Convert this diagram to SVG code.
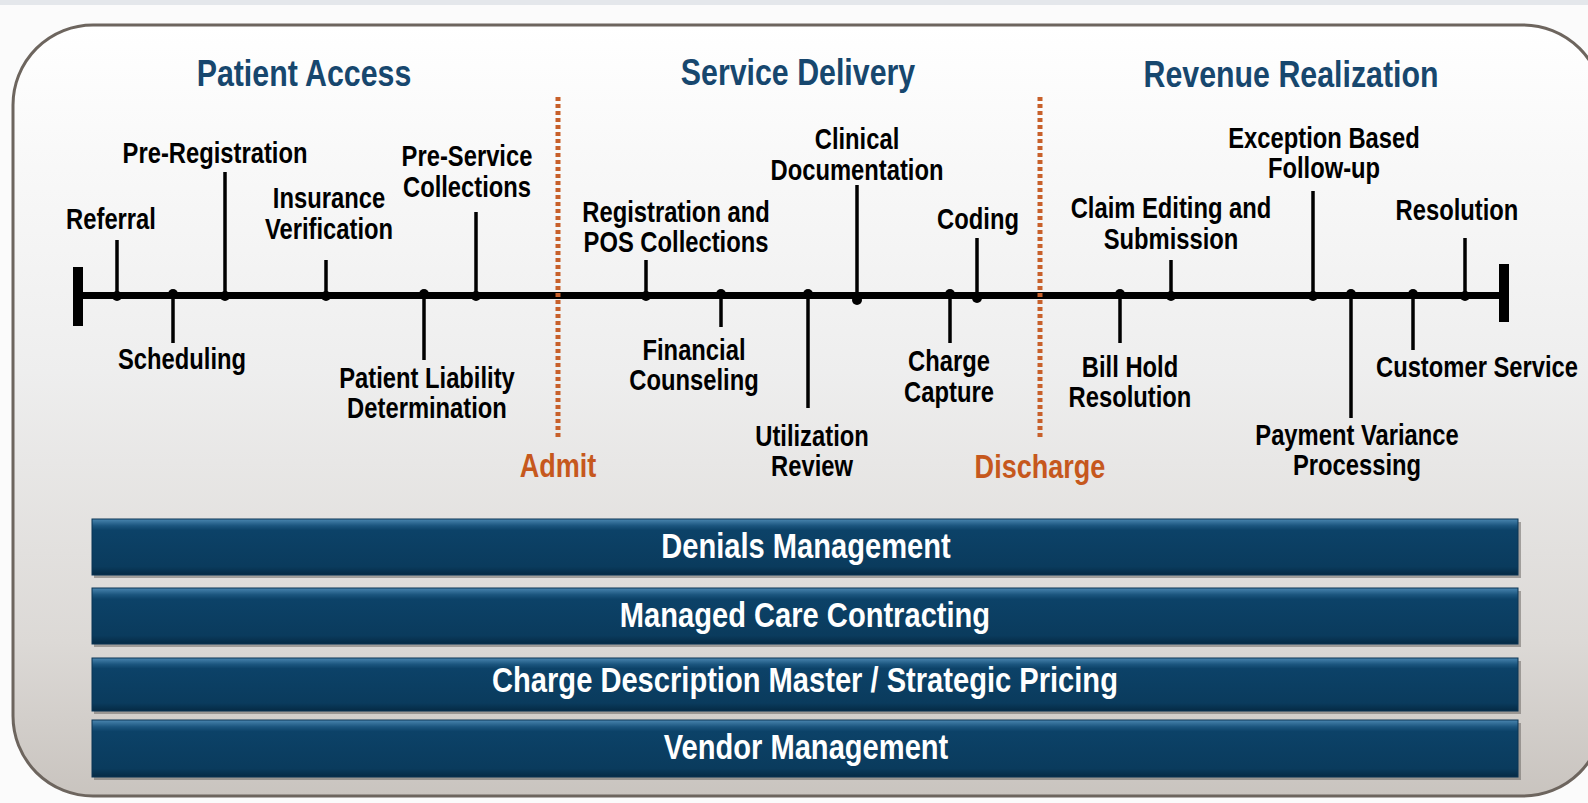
<svg xmlns="http://www.w3.org/2000/svg" width="1588" height="803" viewBox="0 0 1588 803">
<defs>
<linearGradient id="panel" x1="0" y1="0" x2="0" y2="1">
<stop offset="0" stop-color="#ffffff"/>
<stop offset="0.45" stop-color="#eeeeee"/>
<stop offset="0.8" stop-color="#dcd9d6"/>
<stop offset="1" stop-color="#c9c4bf"/>
</linearGradient>
<linearGradient id="bar" x1="0" y1="0" x2="0" y2="1">
<stop offset="0" stop-color="#4a86b0"/>
<stop offset="0.12" stop-color="#1b557e"/>
<stop offset="0.2" stop-color="#0c4268"/>
<stop offset="0.85" stop-color="#0a3b5d"/>
<stop offset="1" stop-color="#052a44"/>
</linearGradient>
<style>
text{font-family:'Liberation Sans',Arial,sans-serif;font-weight:bold;text-anchor:middle}
.lbl{font-size:29px;fill:#000}
.ttl{font-size:37px;fill:#17476e}
.evt{font-size:33px;fill:#c6581d}
.bartxt{font-size:35.5px;fill:#ffffff}
.tick{stroke:#000;stroke-width:3.5;fill:none}
.dot{fill:#000}
.dash{stroke:#c8602a;stroke-width:5;stroke-dasharray:4 3;fill:none}
.barbox{fill:url(#bar);stroke:#0a3454;stroke-width:1}
.shadow{fill:#6e6a66;opacity:0.55}
</style>
</defs>
<rect x="0" y="0" width="1588" height="803" fill="#fbfbfb"/>
<rect x="0" y="0" width="1588" height="5" fill="#e4e7eb"/>
<rect id="frame" x="13" y="25" width="1590" height="771" rx="80" ry="80" fill="url(#panel)" stroke="#6d655e" stroke-width="3"/>

<g id="titles">
<text class="ttl" transform="matrix(0.82 0 0 1 304 0)" y="86">Patient Access</text>
<text class="ttl" transform="matrix(0.82 0 0 1 798 0)" y="85">Service Delivery</text>
<text class="ttl" transform="matrix(0.82 0 0 1 1291 0)" y="87">Revenue Realization</text>
</g>

<g id="connectors">
<line x1="78" y1="295.5" x2="1504" y2="295.5" stroke="#000" stroke-width="7"/>
<rect x="73" y="267" width="10" height="59" fill="#000"/>
<rect x="1499" y="264" width="10" height="58" fill="#000"/>
<line class="dash" x1="558" y1="97" x2="558" y2="437"/>
<line class="dash" x1="1040" y1="97" x2="1040" y2="437"/>
<line class="tick" x1="117" y1="295" x2="117" y2="240"/>
<line class="tick" x1="225" y1="295" x2="225" y2="172"/>
<line class="tick" x1="326" y1="295" x2="326" y2="260"/>
<line class="tick" x1="476" y1="295" x2="476" y2="212"/>
<line class="tick" x1="646" y1="295" x2="646" y2="260"/>
<line class="tick" x1="857" y1="295" x2="857" y2="185"/>
<line class="tick" x1="977" y1="295" x2="977" y2="238"/>
<line class="tick" x1="1171" y1="295" x2="1171" y2="260"/>
<line class="tick" x1="1313" y1="295" x2="1313" y2="191"/>
<line class="tick" x1="1465" y1="295" x2="1465" y2="238"/>
<line class="tick" x1="173" y1="296" x2="173" y2="343"/>
<line class="tick" x1="424" y1="296" x2="424" y2="360"/>
<line class="tick" x1="721" y1="296" x2="721" y2="327"/>
<line class="tick" x1="808" y1="296" x2="808" y2="408"/>
<line class="tick" x1="950" y1="296" x2="950" y2="343"/>
<line class="tick" x1="1120" y1="296" x2="1120" y2="343"/>
<line class="tick" x1="1351" y1="296" x2="1351" y2="418"/>
<line class="tick" x1="1413" y1="296" x2="1413" y2="350"/>
<circle class="dot" cx="117" cy="296" r="5"/>
<circle class="dot" cx="173" cy="294" r="5"/>
<circle class="dot" cx="225" cy="296" r="5"/>
<circle class="dot" cx="326" cy="296" r="5"/>
<circle class="dot" cx="424" cy="294" r="5"/>
<circle class="dot" cx="476" cy="296" r="5"/>
<circle class="dot" cx="646" cy="296" r="5"/>
<circle class="dot" cx="721" cy="294" r="5"/>
<circle class="dot" cx="808" cy="294" r="5"/>
<circle class="dot" cx="857" cy="300" r="5"/>
<circle class="dot" cx="950" cy="294" r="5"/>
<circle class="dot" cx="977" cy="298" r="5"/>
<circle class="dot" cx="1120" cy="294" r="5"/>
<circle class="dot" cx="1171" cy="296" r="5"/>
<circle class="dot" cx="1313" cy="296" r="5"/>
<circle class="dot" cx="1351" cy="294" r="5"/>
<circle class="dot" cx="1413" cy="294" r="5"/>
<circle class="dot" cx="1465" cy="296" r="5"/>
</g>

<g id="referral"><text class="lbl" transform="matrix(0.82 0 0 1 111 0)" y="229">Referral</text></g>
<g id="scheduling"><text class="lbl" transform="matrix(0.82 0 0 1 182 0)" y="369">Scheduling</text></g>
<g id="pre-registration"><text class="lbl" transform="matrix(0.82 0 0 1 215 0)" y="163">Pre-Registration</text></g>
<g id="insurance-verification"><text class="lbl" transform="matrix(0.82 0 0 1 329 0)" y="208">Insurance</text><text class="lbl" transform="matrix(0.82 0 0 1 329 0)" y="239">Verification</text></g>
<g id="patient-liability"><text class="lbl" transform="matrix(0.82 0 0 1 427 0)" y="388">Patient Liability</text><text class="lbl" transform="matrix(0.82 0 0 1 427 0)" y="418">Determination</text></g>
<g id="pre-service"><text class="lbl" transform="matrix(0.82 0 0 1 467 0)" y="166">Pre-Service</text><text class="lbl" transform="matrix(0.82 0 0 1 467 0)" y="197">Collections</text></g>
<g id="registration-pos"><text class="lbl" transform="matrix(0.82 0 0 1 676 0)" y="222">Registration and</text><text class="lbl" transform="matrix(0.82 0 0 1 676 0)" y="252">POS Collections</text></g>
<g id="financial-counseling"><text class="lbl" transform="matrix(0.82 0 0 1 694 0)" y="360">Financial</text><text class="lbl" transform="matrix(0.82 0 0 1 694 0)" y="390">Counseling</text></g>
<g id="utilization-review"><text class="lbl" transform="matrix(0.82 0 0 1 812 0)" y="446">Utilization</text><text class="lbl" transform="matrix(0.82 0 0 1 812 0)" y="476">Review</text></g>
<g id="clinical-documentation"><text class="lbl" transform="matrix(0.82 0 0 1 857 0)" y="149">Clinical</text><text class="lbl" transform="matrix(0.82 0 0 1 857 0)" y="180">Documentation</text></g>
<g id="charge-capture"><text class="lbl" transform="matrix(0.82 0 0 1 949 0)" y="371">Charge</text><text class="lbl" transform="matrix(0.82 0 0 1 949 0)" y="402">Capture</text></g>
<g id="coding"><text class="lbl" transform="matrix(0.82 0 0 1 978 0)" y="229">Coding</text></g>
<g id="claim-editing"><text class="lbl" transform="matrix(0.82 0 0 1 1171 0)" y="218">Claim Editing and</text><text class="lbl" transform="matrix(0.82 0 0 1 1171 0)" y="249">Submission</text></g>
<g id="bill-hold"><text class="lbl" transform="matrix(0.82 0 0 1 1130 0)" y="377">Bill Hold</text><text class="lbl" transform="matrix(0.82 0 0 1 1130 0)" y="407">Resolution</text></g>
<g id="exception-followup"><text class="lbl" transform="matrix(0.82 0 0 1 1324 0)" y="148">Exception Based</text><text class="lbl" transform="matrix(0.82 0 0 1 1324 0)" y="178">Follow-up</text></g>
<g id="payment-variance"><text class="lbl" transform="matrix(0.82 0 0 1 1357 0)" y="445">Payment Variance</text><text class="lbl" transform="matrix(0.82 0 0 1 1357 0)" y="475">Processing</text></g>
<g id="customer-service"><text class="lbl" transform="matrix(0.82 0 0 1 1477 0)" y="377">Customer Service</text></g>
<g id="resolution"><text class="lbl" transform="matrix(0.82 0 0 1 1457 0)" y="220">Resolution</text></g>

<g id="admit"><text class="evt" transform="matrix(0.82 0 0 1 558 0)" y="477">Admit</text></g>
<g id="discharge"><text class="evt" transform="matrix(0.82 0 0 1 1040 0)" y="478">Discharge</text></g>

<g id="bar-denials">
<rect class="shadow" x="94" y="522" width="1427" height="56"/>
<rect class="barbox" x="92" y="519" width="1426" height="56"/>
<text class="bartxt" transform="matrix(0.82 0 0 1 806 0)" y="558">Denials Management</text>
</g>
<g id="bar-managed-care">
<rect class="shadow" x="94" y="591" width="1427" height="56"/>
<rect class="barbox" x="92" y="588" width="1426" height="56"/>
<text class="bartxt" transform="matrix(0.82 0 0 1 805 0)" y="627">Managed Care Contracting</text>
</g>
<g id="bar-cdm">
<rect class="shadow" x="94" y="661" width="1427" height="53"/>
<rect class="barbox" x="92" y="658" width="1426" height="53"/>
<text class="bartxt" transform="matrix(0.82 0 0 1 805 0)" y="692">Charge Description Master / Strategic Pricing</text>
</g>
<g id="bar-vendor">
<rect class="shadow" x="94" y="723" width="1427" height="57"/>
<rect class="barbox" x="92" y="720" width="1426" height="57"/>
<text class="bartxt" transform="matrix(0.82 0 0 1 806 0)" y="759">Vendor Management</text>
</g>
</svg>
